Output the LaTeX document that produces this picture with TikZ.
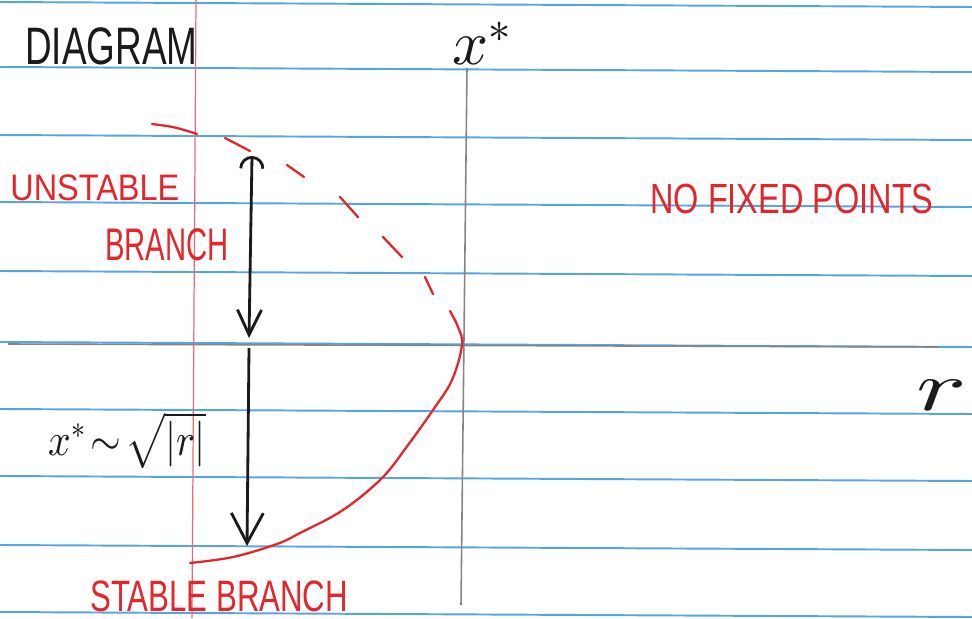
\documentclass[tikz,border=0pt]{standalone}
\usepackage{fontspec}
\usepackage{unicode-math}
\setmainfont{Liberation Sans}
\setmathfont{Latin Modern Math}
\usetikzlibrary{arrows.meta}
\definecolor{padblue}{HTML}{55A6DE}
\definecolor{padmargin}{HTML}{EC6A76}
\definecolor{padred}{HTML}{E2262C}
\definecolor{padgrey}{HTML}{858585}
\definecolor{padink}{HTML}{1A1A1A}
\newcommand{\padsize}[1]{\fontsize{#1}{#1}\selectfont}
\tikzset{
  ruled/.style={draw=padblue, line width=1.1pt},
  marg/.style={draw=padmargin, line width=0.7pt},
  ax/.style={draw=padgrey, line width=0.9pt},
  brnch/.style={draw=padred, line width=1.3pt, line cap=round},
  flow/.style={{Arc Barb[length=2.5mm, width=5mm]}-{Straight Barb[length=5mm, width=4.8mm]}, line width=1.6pt, draw=padink},
  lbl/.style={inner sep=0pt, anchor=base west, text=padink},
  rlbl/.style={lbl, text=padred},
}

\begin{document}
\begin{tikzpicture}[x=0.02cm, y=-0.02cm]
  \clip (0,0) rectangle (972,618);
  \fill[white] (0,0) rectangle (972,618);
  % ruled paper
  \foreach \y in {2,67,135,202,271,342,409,476,545,612}
    \draw[ruled] (0,\y) -- (972,\y+5);
  \draw[marg] (196,0) -- (192,618);
  % axes
  \coordinate (xtop) at (467,68); \coordinate (xbot) at (461,605);
  \coordinate (rleft) at (8,344); \coordinate (rright) at (938,347);
  \draw[ax] (xtop) -- (xbot);
  \draw[ax] (rleft) -- (rright);
  % unstable branch, dashed by hand
  \draw[brnch] (152,124) .. controls (175,127) .. (197,134);
  \foreach \xa/\ya/\xb/\yb in {225/138/250/151, 287/165/304/177, 340/197/358/217, 383/237/402/257, 425/277/433/294}
    \draw[brnch] (\xa,\ya) -- (\xb,\yb);
  % stable branch
  \coordinate (vtx) at (462,345);
  \draw[brnch] plot[smooth, tension=0.6] coordinates {(450,311) (458,327) (vtx) (452,380) (433,410) (408,445) (382,478) (343,510) (300,533) (277,544) (233,557) (190,563)};
  % flow
  \coordinate (ua) at (252,156); \coordinate (ub) at (249,338);
  \coordinate (la) at (249,348); \coordinate (lb) at (247,546);
  \draw[flow] (ua) -- (ub);
  \draw[flow, -{Straight Barb[length=6mm, width=6.4mm]}] (la) -- (lb);
  % labels
  \node[lbl, font=\padsize{30}] (ttl) at (25,65) {\scalebox{0.7}[1]{DIAGRAM}};
  \node[lbl, font=\padsize{36}] (xlbl) at (452,65) {$x^{*}$};
  \node[lbl, font=\padsize{40}] (rlbl) at (916,410) {\scalebox{1.5}[1]{$r$}};
  \node[lbl, font=\padsize{26}] (law) at (48,455) {\scalebox{0.87}[1]{$x^{*}\!\sim\!\sqrt{|r|}$}};
  \node[rlbl, font=\padsize{21}] (unst) at (10,200) {\scalebox{0.88}[1]{UNSTABLE}};
  \node[rlbl, font=\padsize{26}] (unbr) at (105,260) {\scalebox{0.64}[1]{BRANCH}};
  \node[rlbl, font=\padsize{24}] (nofp) at (650,213) {\scalebox{0.77}[1]{NO FIXED POINTS}};
  \node[rlbl, font=\padsize{25}] (stbr) at (90,611) {\scalebox{0.71}[1]{STABLE BRANCH}};
\end{tikzpicture}
\end{document}
